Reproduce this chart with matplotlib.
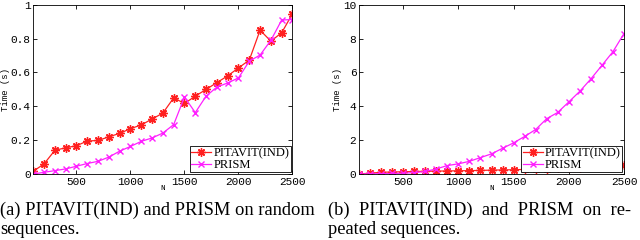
import matplotlib
matplotlib.use("Agg")
from matplotlib import pyplot as plt
from matplotlib.ticker import FixedLocator

n_values = list(range(100, 2600, 100))

random_pitavit = [0.016, 0.06, 0.14, 0.155, 0.167, 0.195, 0.198, 0.22, 0.24, 0.268,
                  0.29, 0.325, 0.36, 0.45, 0.417, 0.46, 0.50, 0.54, 0.58, 0.627,
                  0.673, 0.85, 0.785, 0.835, 0.947]
random_prism = [0.0, 0.01, 0.02, 0.03, 0.046, 0.062, 0.075, 0.10, 0.135, 0.163,
                0.193, 0.213, 0.242, 0.292, 0.455, 0.363, 0.46, 0.514, 0.538, 0.568,
                0.667, 0.703, 0.79, 0.91, 0.913]

repeated_pitavit = [0.0, 0.05, 0.10, 0.12, 0.13, 0.15, 0.16, 0.17, 0.18, 0.19,
                    0.20, 0.21, 0.23, 0.24, 0.25, 0.27, 0.29, 0.31, 0.33, 0.35,
                    0.37, 0.40, 0.43, 0.46, 0.55]
repeated_prism = [0.0, 0.01, 0.02, 0.03, 0.05, 0.08, 0.15, 0.30, 0.50, 0.60,
                  0.75, 0.97, 1.19, 1.52, 1.84, 2.22, 2.63, 3.27, 3.64, 4.26,
                  4.89, 5.62, 6.42, 7.23, 8.30]

x_ticks = [500, 1000, 1500, 2000, 2500]
left_yticks = [0, 0.2, 0.4, 0.6, 0.8, 1]
left_ylabels = ["0", "0.2", "0.4", "0.6", "0.8", "1"]
right_yticks = [0, 2, 4, 6, 8, 10]

caption_a = "(a) PITAVIT(IND) and PRISM on random\nsequences."
caption_b = "(b)  PITAVIT(IND)  and  PRISM  on  re-\npeated sequences."

mono = "Liberation Mono"
serif = "Liberation Serif"

fig = plt.figure(figsize=(6.4, 2.4), dpi=100)


def draw_panel(rect, pitavit, prism, yticks, ylabels, ymax):
    ax = fig.add_axes(rect)
    ax.plot(n_values, pitavit, color="#ff2020", marker=(8, 2, 0), markersize=6,
            markeredgewidth=1.0, linewidth=0.9, label="PITAVIT(IND)")
    ax.plot(n_values, prism, color="#ff20ff", marker="x", markersize=4,
            linewidth=0.9, label="PRISM")
    ax.set_xlim(100, 2500)
    ax.set_ylim(0, ymax)
    ax.xaxis.set_major_locator(FixedLocator(x_ticks))
    ax.set_xticklabels([str(t) for t in x_ticks], family=mono, fontsize=8)
    ax.set_yticks(yticks)
    ax.set_yticklabels(ylabels, family=mono, fontsize=8)
    ax.tick_params(direction="in", top=True, right=True, length=3, width=0.6, pad=2)
    for s in ax.spines.values():
        s.set_linewidth(0.6)
    ax.set_xlabel("N", family=mono, fontsize=5.5, labelpad=-1)
    ax.set_ylabel("Time (s)", family=mono, fontsize=6.5, labelpad=0.5)
    leg = ax.legend(loc="lower right", prop={"family": serif, "size": 9},
                    fancybox=False, edgecolor="black", framealpha=1,
                    borderpad=0.1, labelspacing=0.0, handlelength=1.6,
                    handletextpad=0.2, borderaxespad=0.15)
    leg.get_frame().set_linewidth(0.6)
    return ax


draw_panel([0.052, 0.275, 0.405, 0.705], random_pitavit, random_prism,
           left_yticks, left_ylabels, 1)
draw_panel([0.561, 0.275, 0.414, 0.705], repeated_pitavit, repeated_prism,
           right_yticks, [str(t) for t in right_yticks], 10)

fig.text(0.0, 0.01, caption_a, family=serif, fontsize=13.3, ha="left", va="bottom",
         linespacing=1.15)
fig.text(0.512, 0.01, caption_b, family=serif, fontsize=13.3, ha="left", va="bottom",
         linespacing=1.15)

fig.savefig("out.png", dpi=100)
